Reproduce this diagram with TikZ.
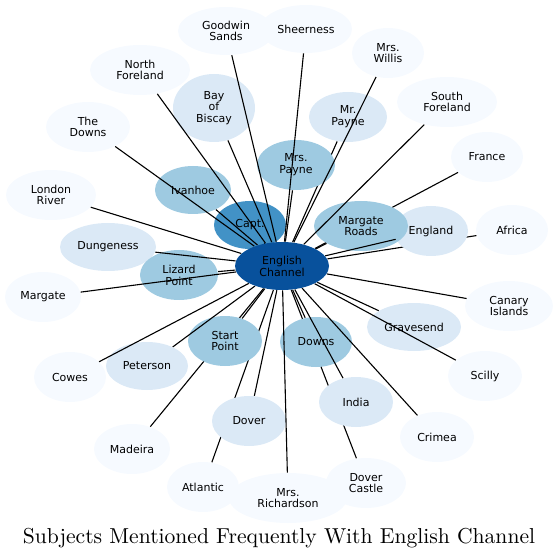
\documentclass[tikz,border=0pt]{standalone}
\usepackage{fontspec}
\usepackage{tikz}
\usetikzlibrary{shapes.geometric,positioning}
\newfontfamily\lblfont{DejaVu Sans}
\definecolor{chandark}{RGB}{8,81,156}
\definecolor{captblue}{RGB}{66,146,198}
\definecolor{midblue}{RGB}{158,202,225}
\definecolor{lightblue}{RGB}{219,233,246}
\definecolor{paleblue}{RGB}{246,250,255}
\pgfdeclarelayer{bg}
\pgfdeclarelayer{fg}
\pgfsetlayers{bg,main,fg}

\begin{document}
\begin{tikzpicture}[
    x=0.5pt, y=-0.5pt,
    topic/.style={ellipse, fill=#1, inner sep=0pt, align=center, font=\lblfont\fontsize{5.5}{5.9}\selectfont},
    link/.style={draw=black, line width=0.55pt},
]
    \useasboundingbox (0,0) rectangle (558,560);

    % Hub
    \begin{pgfonlayer}{fg}
    \node[topic=chandark, minimum width=47pt, minimum height=24pt] (channel) at (282,266) {English\\Channel};
    \end{pgfonlayer}

    % Outer ring
    \node[topic=paleblue, minimum width=48pt, minimum height=24pt] (goodwin) at (226,31) {Goodwin\\Sands};
    \node[topic=paleblue, minimum width=46pt, minimum height=24pt] (sheerness) at (306,29) {Sheerness};
    \node[topic=paleblue, minimum width=36pt, minimum height=25pt] (willis) at (388,53) {Mrs.\\Willis};
    \node[topic=paleblue, minimum width=50pt, minimum height=25pt] (nforeland) at (140,70) {North\\Foreland};
    \node[topic=paleblue, minimum width=50pt, minimum height=25pt] (sforeland) at (447,102) {South\\Foreland};
    \node[topic=paleblue, minimum width=42pt, minimum height=25pt] (thedowns) at (88,127) {The\\Downs};
    \node[topic=paleblue, minimum width=36pt, minimum height=25pt] (france) at (487,157) {France};
    \node[topic=paleblue, minimum width=45pt, minimum height=25pt] (london) at (51,195) {London\\River};
    \node[topic=paleblue, minimum width=36pt, minimum height=25pt] (africa) at (512,230) {Africa};
    \node[topic=paleblue, minimum width=38pt, minimum height=25pt] (margate) at (43,297) {Margate};
    \node[topic=paleblue, minimum width=44pt, minimum height=25pt] (canary) at (509,306) {Canary\\Islands};
    \node[topic=paleblue, minimum width=36pt, minimum height=25pt] (cowes) at (70,377) {Cowes};
    \node[topic=paleblue, minimum width=37pt, minimum height=25pt] (scilly) at (485,376) {Scilly};
    \node[topic=paleblue, minimum width=38pt, minimum height=25pt] (madeira) at (132,449) {Madeira};
    \node[topic=paleblue, minimum width=37pt, minimum height=25pt] (crimea) at (437,437) {Crimea};
    \node[topic=paleblue, minimum width=36pt, minimum height=25pt] (atlantic) at (203,487) {Atlantic};
    \node[topic=paleblue, minimum width=59pt, minimum height=25pt] (richardson) at (288,498) {Mrs.\\Richardson};
    \node[topic=paleblue, minimum width=40pt, minimum height=25pt] (dovercastle) at (366,483) {Dover\\Castle};

    % Middle ring
    \node[topic=lightblue, minimum width=41pt, minimum height=34pt] (biscay) at (214,108) {Bay\\of\\Biscay};
    \node[topic=lightblue, minimum width=39pt, minimum height=25pt] (mrpayne) at (348,117) {Mr.\\Payne};
    \node[topic=lightblue, minimum width=37pt, minimum height=25pt] (england) at (431,231) {England};
    \node[topic=lightblue, minimum width=48pt, minimum height=24pt] (dungeness) at (108,247) {Dungeness};
    \node[topic=lightblue, minimum width=47pt, minimum height=24pt] (gravesend) at (414,327) {Gravesend};
    \node[topic=lightblue, minimum width=41pt, minimum height=24pt] (peterson) at (147,366) {Peterson};
    \node[topic=lightblue, minimum width=37pt, minimum height=25pt] (dover) at (249,421) {Dover};
    \node[topic=lightblue, minimum width=37pt, minimum height=25pt] (india) at (356,402) {India};

    % Inner ring
    \node[topic=midblue, minimum width=38pt, minimum height=24pt] (ivanhoe) at (193,190) {Ivanhoe};
    \node[topic=midblue, minimum width=39pt, minimum height=25pt] (mrspayne) at (296,165) {Mrs.\\Payne};
    \node[topic=midblue, minimum width=47pt, minimum height=25pt] (margroads) at (361,226) {Margate\\Roads};
    \node[topic=midblue, minimum width=39pt, minimum height=25pt] (lizard) at (179,275) {Lizard\\Point};
    \node[topic=midblue, minimum width=37pt, minimum height=25pt] (start) at (225,341) {Start\\Point};
    \node[topic=midblue, minimum width=36pt, minimum height=25pt] (downs) at (316,342) {Downs};
    \node[topic=captblue, minimum width=36pt, minimum height=24pt] (capt) at (250,225) {Capt.};

    % Links hidden behind other topics
    \begin{pgfonlayer}{bg}
    \draw[link] (channel) -- (mrpayne);
    \draw[link] (channel) -- (france);
    \draw[link] (channel) -- (africa);
    \draw[link] (channel) -- (dovercastle);
    \draw[link] (channel) -- (madeira);
    \draw[link] (channel) -- (atlantic);
    \end{pgfonlayer}

    % Links over the topics
    \draw[link] (channel) -- (capt);
    \draw[link] (channel) -- (ivanhoe);
    \draw[link] (channel) -- (mrspayne);
    \draw[link] (channel) -- (margroads);
    \draw[link] (channel) -- (lizard);
    \draw[link] (channel) -- (start);
    \draw[link] (channel) -- (downs);
    \draw[link] (channel) -- (biscay);
    \draw[link] (channel) -- (england);
    \draw[link] (channel) -- (dungeness);
    \draw[link] (channel) -- (gravesend);
    \draw[link] (channel) -- (peterson);
    \draw[link] (channel) -- (dover);
    \draw[link] (channel) -- (india);
    \draw[link] (channel) -- (goodwin);
    \draw[link] (channel) -- (sheerness);
    \draw[link] (channel) -- (willis);
    \draw[link] (channel) -- (nforeland);
    \draw[link] (channel) -- (sforeland);
    \draw[link] (channel) -- (thedowns);
    \draw[link] (channel) -- (london);
    \draw[link] (channel) -- (margate);
    \draw[link] (channel) -- (canary);
    \draw[link] (channel) -- (cowes);
    \draw[link] (channel) -- (scilly);
    \draw[link] (channel) -- (crimea);
    \draw[link] (channel) -- (richardson);

    % Title
    \node[anchor=base, font=\fontsize{10.8}{13}\selectfont] (title) at (279,543) {Subjects Mentioned Frequently With English Channel};
\end{tikzpicture}
\end{document}
